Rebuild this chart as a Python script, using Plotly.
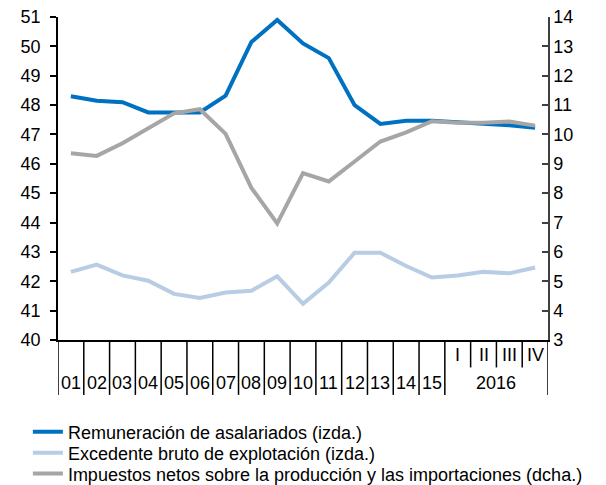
import plotly.graph_objects as go

# categories: years 2001-2015 and the four quarters of 2016
years = ["01", "02", "03", "04", "05", "06", "07", "08", "09", "10",
         "11", "12", "13", "14", "15"]
quarters = ["I", "II", "III", "IV"]
categories = years + quarters

# left axis (% of GDP)
remuneracion = [48.3, 48.15, 48.1, 47.75, 47.75, 47.75, 48.32, 50.15, 50.9, 50.1,
                49.6, 48.0, 47.36, 47.47, 47.47, 47.42, 47.36, 47.31, 47.23]
excedente = [42.32, 42.57, 42.2, 42.02, 41.57, 41.43, 41.62, 41.68, 42.17, 41.23,
             41.96, 42.97, 42.97, 42.52, 42.13, 42.2, 42.32, 42.27, 42.47]
# right axis
impuestos = [9.36, 9.27, 9.7, 10.21, 10.72, 10.86, 10.02, 8.18, 6.97, 8.68,
             8.4, 9.08, 9.76, 10.07, 10.45, 10.4, 10.4, 10.44, 10.3]

FONT = "Liberation Sans, Arial, sans-serif"

fig = go.Figure()
fig.add_trace(go.Scatter(x=categories, y=remuneracion, mode="lines",
                         name="Remuneración de asalariados (izda.)",
                         line=dict(color="#0070C0", width=4), legend="legend"))
fig.add_trace(go.Scatter(x=categories, y=excedente, mode="lines",
                         name="Excedente bruto de explotación (izda.)",
                         line=dict(color="#B8CCE4", width=4), legend="legend2"))
fig.add_trace(go.Scatter(x=categories, y=impuestos, mode="lines", yaxis="y2",
                         name="Impuestos netos sobre la producción y las importaciones (dcha.)",
                         line=dict(color="#A6A6A6", width=4), legend="legend3"))

# separators under the x axis
for i in range(len(categories) + 1):
    pos = i - 0.5
    short = len(years) < i < len(categories)
    fig.add_shape(type="line", xref="x", yref="paper", x0=pos, x1=pos,
                  y0=0, y1=-0.085 if short else -0.17,
                  line=dict(color="black", width=1.5))

# category labels
for i, c in enumerate(categories):
    fig.add_annotation(x=i, y=-0.133 if c in years else -0.045, xref="x", yref="paper",
                       yanchor="middle", text=c, showarrow=False,
                       font=dict(size=18, color="black"))
fig.add_annotation(x=len(years) + 1.5, y=-0.133, xref="x", yref="paper", yanchor="middle",
                   text="2016", showarrow=False, font=dict(size=18, color="black"))

leg = dict(x=0.046, xref="container", yref="container", xanchor="left", yanchor="middle",
           font=dict(size=18), itemwidth=30, bgcolor="rgba(0,0,0,0)")

fig.update_layout(
    width=606, height=485,
    margin=dict(l=58, r=58, t=17, b=145, autoexpand=False),
    paper_bgcolor="white", plot_bgcolor="white",
    font=dict(family=FONT, size=18, color="black"),
    showlegend=True,
    legend=dict(leg, y=0.109),
    legend2=dict(leg, y=0.066),
    legend3=dict(leg, y=0.023),
    xaxis=dict(type="category", range=[-0.5, len(categories) - 0.5],
               showticklabels=False, ticks="", showgrid=False, automargin=False,
               showline=True, linecolor="black", linewidth=1.5, zeroline=False),
    yaxis=dict(range=[40, 51], dtick=1, showgrid=False, zeroline=False, automargin=False,
               showline=True, linecolor="black", linewidth=1.5,
               ticks="outside", ticklen=6, tickcolor="black", tickwidth=1.5,
               ticklabelstandoff=6),
    yaxis2=dict(range=[3, 14], dtick=1, overlaying="y", side="right", automargin=False,
                showgrid=False, zeroline=False,
                showline=True, linecolor="#404040", linewidth=1.5,
                ticks="inside", ticklen=6, tickcolor="#404040", tickwidth=1.5),
)

# the page's default body margin would shift the chart by 8px
fig.write_html("out.html", config={"displayModeBar": False},
               post_script="document.body.style.margin='0';")
